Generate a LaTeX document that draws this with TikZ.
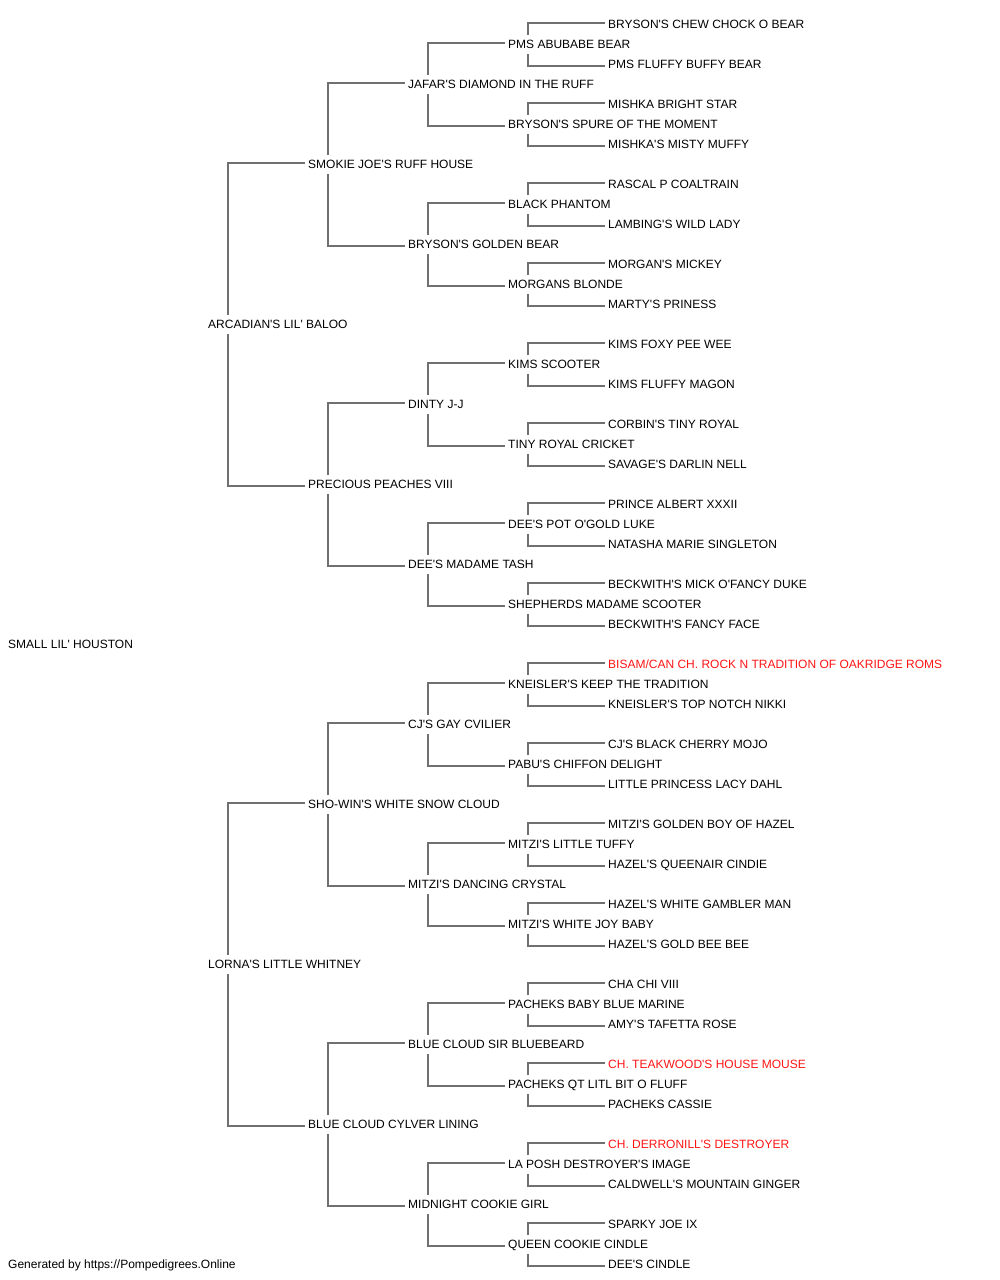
\documentclass[tikz,border=0pt]{standalone}
\usepackage{fontspec}
\newfontfamily\pedfont{Liberation Sans}
\definecolor{linkgray}{HTML}{707070}
\definecolor{champred}{HTML}{FF1414}
\tikzset{
  pname/.style={anchor=west,inner xsep=0pt,inner ysep=5pt,text height=8.6pt,text depth=0pt,
    font=\pedfont\fontsize{12}{14}\selectfont},
  champ/.style={pname,text=champred},
  link/.style={draw=linkgray,line width=2pt}
}
\begin{document}
\begin{tikzpicture}[x=1pt,y=-1pt]
  \useasboundingbox (0,0) rectangle (1000,1280);

  \node[pname] (n1) at (8,644) {SMALL LIL' HOUSTON};

  \node[pname] (n2) at (208,324) {ARCADIAN'S LIL' BALOO};
  \node[pname] (n3) at (208,964) {LORNA'S LITTLE WHITNEY};

  \node[pname] (n4) at (308,164) {SMOKIE JOE'S RUFF HOUSE};
  \node[pname] (n5) at (308,484) {PRECIOUS PEACHES VIII};
  \node[pname] (n6) at (308,804) {SHO-WIN'S WHITE SNOW CLOUD};
  \node[pname] (n7) at (308,1124) {BLUE CLOUD CYLVER LINING};

  \node[pname] (n8) at (408,84) {JAFAR'S DIAMOND IN THE RUFF};
  \node[pname] (n9) at (408,244) {BRYSON'S GOLDEN BEAR};
  \node[pname] (n10) at (408,404) {DINTY J-J};
  \node[pname] (n11) at (408,564) {DEE'S MADAME TASH};
  \node[pname] (n12) at (408,724) {CJ'S GAY CVILIER};
  \node[pname] (n13) at (408,884) {MITZI'S DANCING CRYSTAL};
  \node[pname] (n14) at (408,1044) {BLUE CLOUD SIR BLUEBEARD};
  \node[pname] (n15) at (408,1204) {MIDNIGHT COOKIE GIRL};

  \node[pname] (n16) at (508,44) {PMS ABUBABE BEAR};
  \node[pname] (n17) at (508,124) {BRYSON'S SPURE OF THE MOMENT};
  \node[pname] (n18) at (508,204) {BLACK PHANTOM};
  \node[pname] (n19) at (508,284) {MORGANS BLONDE};
  \node[pname] (n20) at (508,364) {KIMS SCOOTER};
  \node[pname] (n21) at (508,444) {TINY ROYAL CRICKET};
  \node[pname] (n22) at (508,524) {DEE'S POT O'GOLD LUKE};
  \node[pname] (n23) at (508,604) {SHEPHERDS MADAME SCOOTER};
  \node[pname] (n24) at (508,684) {KNEISLER'S KEEP THE TRADITION};
  \node[pname] (n25) at (508,764) {PABU'S CHIFFON DELIGHT};
  \node[pname] (n26) at (508,844) {MITZI'S LITTLE TUFFY};
  \node[pname] (n27) at (508,924) {MITZI'S WHITE JOY BABY};
  \node[pname] (n28) at (508,1004) {PACHEKS BABY BLUE MARINE};
  \node[pname] (n29) at (508,1084) {PACHEKS QT LITL BIT O FLUFF};
  \node[pname] (n30) at (508,1164) {LA POSH DESTROYER'S IMAGE};
  \node[pname] (n31) at (508,1244) {QUEEN COOKIE CINDLE};

  \node[pname] (n32) at (608,24) {BRYSON'S CHEW CHOCK O BEAR};
  \node[pname] (n33) at (608,64) {PMS FLUFFY BUFFY BEAR};
  \node[pname] (n34) at (608,104) {MISHKA BRIGHT STAR};
  \node[pname] (n35) at (608,144) {MISHKA'S MISTY MUFFY};
  \node[pname] (n36) at (608,184) {RASCAL P COALTRAIN};
  \node[pname] (n37) at (608,224) {LAMBING'S WILD LADY};
  \node[pname] (n38) at (608,264) {MORGAN'S MICKEY};
  \node[pname] (n39) at (608,304) {MARTY'S PRINESS};
  \node[pname] (n40) at (608,344) {KIMS FOXY PEE WEE};
  \node[pname] (n41) at (608,384) {KIMS FLUFFY MAGON};
  \node[pname] (n42) at (608,424) {CORBIN'S TINY ROYAL};
  \node[pname] (n43) at (608,464) {SAVAGE'S DARLIN NELL};
  \node[pname] (n44) at (608,504) {PRINCE ALBERT XXXII};
  \node[pname] (n45) at (608,544) {NATASHA MARIE SINGLETON};
  \node[pname] (n46) at (608,584) {BECKWITH'S MICK O'FANCY DUKE};
  \node[pname] (n47) at (608,624) {BECKWITH'S FANCY FACE};
  \node[champ] (n48) at (608,664) {BISAM/CAN CH. ROCK N TRADITION OF OAKRIDGE ROMS};
  \node[pname] (n49) at (608,704) {KNEISLER'S TOP NOTCH NIKKI};
  \node[pname] (n50) at (608,744) {CJ'S BLACK CHERRY MOJO};
  \node[pname] (n51) at (608,784) {LITTLE PRINCESS LACY DAHL};
  \node[pname] (n52) at (608,824) {MITZI'S GOLDEN BOY OF HAZEL};
  \node[pname] (n53) at (608,864) {HAZEL'S QUEENAIR CINDIE};
  \node[pname] (n54) at (608,904) {HAZEL'S WHITE GAMBLER MAN};
  \node[pname] (n55) at (608,944) {HAZEL'S GOLD BEE BEE};
  \node[pname] (n56) at (608,984) {CHA CHI VIII};
  \node[pname] (n57) at (608,1024) {AMY'S TAFETTA ROSE};
  \node[champ] (n58) at (608,1064) {CH. TEAKWOOD'S HOUSE MOUSE};
  \node[pname] (n59) at (608,1104) {PACHEKS CASSIE};
  \node[champ] (n60) at (608,1144) {CH. DERRONILL'S DESTROYER};
  \node[pname] (n61) at (608,1184) {CALDWELL'S MOUNTAIN GINGER};
  \node[pname] (n62) at (608,1224) {SPARKY JOE IX};
  \node[pname] (n63) at (608,1264) {DEE'S CINDLE};

  \node[pname] (credit) at (8,1264) {Generated by https://Pompedigrees.Online};

  \foreach \i in {2,...,31} {
    \pgfmathtruncatemacro\sire{2*\i}
    \pgfmathtruncatemacro\dam{2*\i+1}
    \draw[link] ([xshift=-3pt,yshift=1.5pt]n\sire.west) -| ([xshift=20pt]n\i.north west);
    \draw[link] ([xshift=-3pt,yshift=-1.5pt]n\dam.west) -| ([xshift=20pt]n\i.south west);
  }
\end{tikzpicture}
\end{document}
